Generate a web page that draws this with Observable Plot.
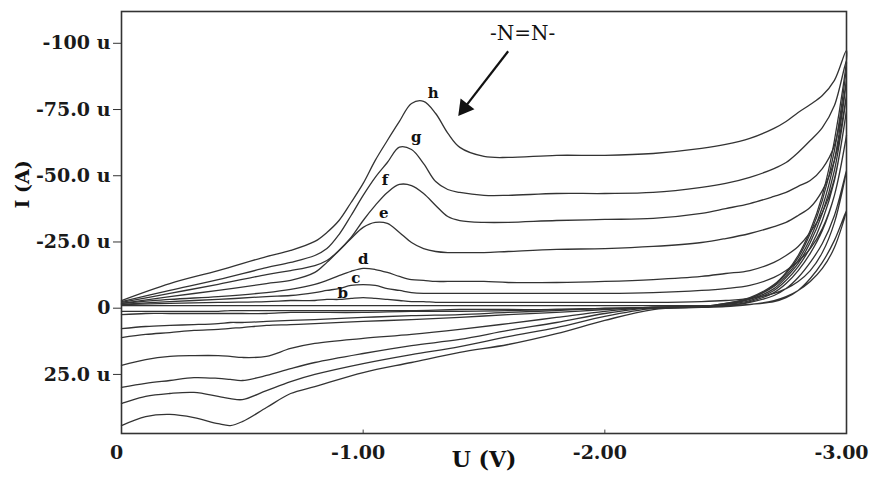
<!DOCTYPE html>
<html><head><meta charset="utf-8">
<script src="https://cdn.jsdelivr.net/npm/d3@7"></script>
<script src="https://cdn.jsdelivr.net/npm/@observablehq/plot@0.6"></script>
<style>body{margin:0;background:#fff}</style>
</head><body><div id="chart"></div>
<script>
// Voltage grids (V)
const fwdV = [0, -0.2, -0.4, -0.6, -0.7, -0.8, -0.85, -0.9, -0.95, -1.0, -1.05, -1.1, -1.15, -1.2, -1.25, -1.3, -1.35, -1.4, -1.5, -1.6, -1.8, -2.0, -2.2, -2.4, -2.5, -2.6, -2.7, -2.75, -2.8, -2.85, -2.9, -2.95, -3.0];
const revV = [-2.95, -2.9, -2.85, -2.8, -2.75, -2.7, -2.6, -2.5, -2.4, -2.2, -2.0, -1.8, -1.6, -1.4, -1.2, -1.0, -0.8, -0.7, -0.6, -0.5, -0.45, -0.4, -0.3, -0.2, -0.1, 0];

const curveNames = ["a", "b", "c", "d", "e", "f", "g", "h"];

// Forward scans, current in µA (0 -> -3 V)
const fwdA = [-1.0, -1.0, -1.0, -1.0, -1.0, -1.0, -1.0, -1.0, -1.0, -1.0, -1.0, -1.0, -1.0, -1.0, -1.0, -1.0, -1.0, -1.0, -1.0, -1.0, -1.0, -1.0, -1.0, -1.0, -1.0, -1.4, -2.9, -4.4, -6.7, -10.1, -15.0, -22.9, -36.9];
const fwdB = [-1.4, -1.8, -2.2, -2.5, -2.9, -2.9, -3.3, -3.3, -3.7, -4.0, -3.7, -3.3, -2.9, -2.5, -2.5, -2.2, -2.2, -2.2, -2.2, -2.2, -2.2, -2.2, -2.2, -2.5, -2.9, -3.7, -5.6, -7.4, -10.1, -14.2, -21.0, -32.3, -52.0];
const fwdC = [-1.4, -2.5, -3.3, -4.4, -4.8, -5.9, -6.7, -7.4, -8.6, -8.9, -8.6, -7.4, -6.7, -5.9, -5.6, -5.6, -5.6, -5.6, -5.6, -5.6, -5.6, -5.6, -5.9, -6.7, -7.4, -8.6, -11.6, -14.2, -17.7, -22.5, -30.1, -42.6, -65.2];
const fwdD = [-1.8, -3.3, -4.4, -5.9, -7.1, -9.0, -10.5, -12.3, -13.9, -15.0, -14.6, -13.5, -12.0, -10.8, -10.5, -10.1, -10.1, -10.1, -10.1, -9.7, -9.7, -10.1, -10.8, -12.0, -13.1, -14.2, -17.3, -19.9, -23.3, -28.6, -36.1, -48.9, -74.6];
const fwdE = [-1.8, -4.4, -6.7, -9.3, -10.5, -13.5, -17.3, -21.8, -26.3, -30.5, -32.4, -32.0, -28.6, -24.8, -22.5, -21.4, -21.0, -21.0, -21.0, -21.4, -22.2, -22.5, -23.3, -24.8, -26.3, -28.2, -30.8, -32.4, -35.0, -38.1, -44.4, -55.8, -80.3];
const fwdF = [-2.2, -5.6, -9.0, -12.7, -14.2, -16.1, -18.0, -21.8, -26.7, -33.1, -38.8, -43.7, -46.7, -46.3, -43.3, -38.8, -34.6, -33.1, -32.4, -32.4, -33.1, -33.5, -33.9, -35.8, -37.6, -39.5, -42.2, -43.7, -46.0, -48.2, -52.7, -61.4, -86.0];
const fwdG = [-2.5, -6.7, -10.8, -15.3, -17.3, -19.9, -22.5, -27.8, -35.0, -42.6, -49.4, -55.0, -60.8, -59.9, -54.6, -47.8, -44.8, -43.7, -42.6, -42.6, -43.3, -43.3, -43.7, -45.6, -47.1, -49.4, -52.7, -55.0, -58.8, -63.3, -68.2, -76.5, -93.5];
const fwdH = [-2.9, -9.3, -14.2, -19.5, -21.8, -25.2, -28.6, -33.1, -39.9, -47.1, -55.8, -63.3, -70.5, -77.3, -78.1, -73.5, -66.1, -60.7, -57.3, -56.9, -57.7, -57.7, -58.4, -60.3, -61.8, -64.1, -67.9, -70.5, -73.9, -76.9, -80.3, -86.0, -97.3];

// Reverse scans, current in µA (-3 -> 0 V)
const revA = [-25.6, -17.3, -11.2, -6.7, -4.0, -2.5, -1.4, -0.6, -0.3, 0.1, 0.1, 0.5, 0.5, 0.5, 0.9, 0.9, 0.9, 0.9, 0.9, 0.9, 0.9, 1.2, 1.2, 1.2, 1.2, 1.2];
const revB = [-35.0, -24.4, -17.3, -11.6, -7.4, -4.8, -2.2, -1.0, -0.6, -0.3, 0.1, 0.5, 0.9, 1.2, 1.2, 1.6, 1.6, 1.6, 2.0, 2.0, 2.0, 2.0, 2.0, 2.0, 2.0, 2.4];
const revC = [-42.6, -29.3, -20.7, -14.2, -9.3, -5.9, -2.5, -1.0, -0.6, -0.3, 0.1, 0.9, 1.6, 2.4, 2.8, 3.5, 4.3, 4.6, 5.0, 5.4, 5.4, 5.8, 6.2, 6.5, 6.9, 7.7];
const revD = [-48.2, -33.1, -22.9, -15.7, -10.5, -6.7, -2.9, -1.4, -0.6, -0.3, 0.5, 1.6, 2.4, 3.5, 4.3, 5.0, 5.8, 6.2, 6.5, 7.3, 7.6, 8.0, 8.4, 9.2, 9.9, 11.1];
const revE = [-52.0, -35.8, -24.8, -16.9, -11.6, -7.4, -3.3, -1.4, -0.6, -0.3, 1.2, 3.5, 5.8, 8.0, 9.9, 11.4, 13.3, 15.2, 18.2, 18.6, 18.2, 17.9, 17.9, 18.2, 19.4, 21.6];
const revF = [-55.8, -38.1, -26.3, -18.0, -12.3, -8.2, -3.7, -1.4, -0.6, -0.3, 2.0, 5.4, 8.4, 11.8, 14.1, 17.1, 20.5, 22.8, 25.4, 27.3, 26.9, 26.5, 26.2, 27.3, 28.4, 29.9];
const revG = [-59.5, -40.7, -28.2, -19.1, -13.1, -8.6, -3.7, -1.8, -0.6, 0.1, 3.1, 7.3, 10.7, 14.5, 17.5, 20.9, 25.0, 27.7, 31.1, 34.5, 34.1, 33.3, 31.8, 32.2, 33.3, 36.0];
const revH = [-63.3, -42.6, -29.3, -19.9, -13.5, -8.9, -4.0, -1.8, -0.6, 0.5, 4.6, 9.6, 13.7, 16.7, 20.5, 24.3, 29.6, 32.2, 37.5, 42.8, 44.3, 43.6, 41.3, 40.1, 40.9, 44.3];

// Curve letter labels (annotation anchors in data space)
const labelLetters = ["b", "c", "d", "e", "f", "g", "h"];
const labelV = [-0.915, -0.97, -1.0, -1.085, -1.09, -1.22, -1.29];
const labelI = [-5.6, -11.3, -18.5, -36.0, -48.5, -64.5, -81.0];

// Axis ticks
const xTicks = [0, -1, -2, -3];
const yTicks = [-100, -75, -50, -25, 0, 25];

// Annotation "-N=N-" with arrow (shaft start, arrowhead centre)
const noteText = "-N=N-";
const noteV = -1.66, noteI = -103.7;
const arrowFrom = [-1.60, -97.0];
const arrowHead = [-1.419, -75.6];

const fwd = {a: fwdA, b: fwdB, c: fwdC, d: fwdD, e: fwdE, f: fwdF, g: fwdG, h: fwdH};
const rev = {a: revA, b: revB, c: revC, d: revD, e: revE, f: revF, g: revG, h: revH};

const rows = [];
curveNames.forEach(n => {
  fwdV.forEach((v, i) => rows.push({curve: n, V: v, I: fwd[n][i]}));
  revV.forEach((v, i) => rows.push({curve: n, V: v, I: rev[n][i]}));
});

const fmtY = d => d === 0 ? "0" : (d === -100 ? "-100 u" : d.toFixed(1) + " u");
const fmtX = d => d === 0 ? "0" : d.toFixed(2);

const yBottom = 47.3, yTop = -112.0;

const chart = Plot.plot({
  width: 869, height: 484,
  marginLeft: 121, marginRight: 23, marginTop: 11, marginBottom: 51,
  style: {fontFamily: "'DejaVu Serif', serif", background: "#fff", color: "#1a1a1a"},
  x: {domain: [0, -3]},
  y: {domain: [yBottom, yTop]},
  marks: [
    Plot.axisY({ticks: yTicks, tickFormat: fmtY, tickSize: 8, tickPadding: 3, fontSize: 19, fontWeight: "bold", label: null, stroke: "#333"}),
    Plot.axisX({ticks: xTicks, tickFormat: fmtX, tickSize: 0, tickPadding: 12, fontSize: 19, fontWeight: "bold", label: null, dx: -5}),
    Plot.ruleX(xTicks, {y1: yBottom, y2: yBottom - 1.3, stroke: "#444"}),
    Plot.line(rows, {x: "V", y: "I", z: "curve", curve: "catmull-rom", stroke: "#333", strokeWidth: 1.3}),
    Plot.frame({stroke: "#333", strokeWidth: 1.6}),
    Plot.text(labelLetters, {x: labelV, y: labelI, text: d => d, fontSize: 15, fontWeight: "bold", fill: "#111"}),
    Plot.text([noteText], {x: [noteV], y: [noteI], fontSize: 20, fill: "#111"}),
    Plot.link([0], {x1: [arrowFrom[0]], y1: [arrowFrom[1]], x2: [arrowHead[0]], y2: [arrowHead[1]], stroke: "#111", strokeWidth: 2.2}),
    Plot.dot([0], {x: [arrowHead[0]], y: [arrowHead[1]], symbol: "triangle", r: 6.5, rotate: 217.7, fill: "#111", stroke: "none"}),
    Plot.text(["U (V)"], {frameAnchor: "bottom", dy: 33, fontSize: 22, fontWeight: "bold", fill: "#111"}),
    Plot.text(["I (A)"], {frameAnchor: "left", dx: -99, dy: -14, rotate: -90, fontSize: 19, fontWeight: "bold", fill: "#111"})
  ]
});
document.getElementById("chart").appendChild(chart);
</script>
</body></html>
